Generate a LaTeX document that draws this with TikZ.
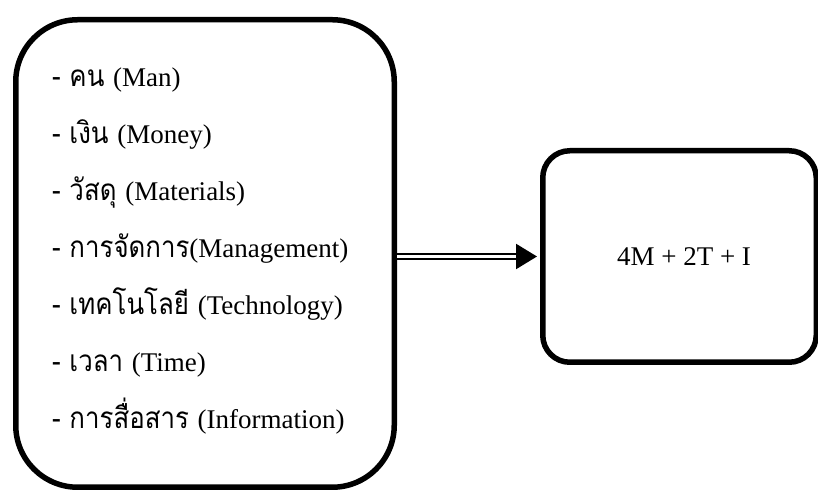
\documentclass[tikz,border=0pt]{standalone}
\usepackage{fontspec}
\setmainfont{Liberation Serif}
\newfontfamily\thai[Script=Thai, Scale=1.1, FakeStretch=0.87]{Loma}
\usetikzlibrary{arrows.meta}

\begin{document}
\begin{tikzpicture}[x=1pt,y=1pt]
		\tikzstyle{every node}+=[inner sep=0pt]
		\tikzstyle{box}=[draw=black, line width=5.5pt, font=\fontsize{27}{32}\selectfont]
		\tikzstyle{item}=[anchor=base west, font=\fontsize{27}{32}\selectfont]
		\useasboundingbox (0,0) rectangle (818,494);
		% left: the resources
		\node [box, rounded corners=62pt, minimum width=378.5pt, minimum height=467.5pt] (resources) at (205,240.5) {};
		\node [item] (man) at (52,407) {{\thai - คน }(Man)};
		\node [item] (money) at (52,350) {{\thai - เงิน }(Money)};
		\node [item] (materials) at (52,293) {{\thai - วัสดุ }(Materials)};
		\node [item] (management) at (52,236) {{\thai - การจัดการ}(Management)};
		\node [item] (technology) at (52,179) {{\thai - เทคโนโลยี }(Technology)};
		\node [item] (time) at (52,122) {{\thai - เวลา }(Time)};
		\node [item] (information) at (52,65) {{\thai - การสื่อสาร }(Information)};
		% right: the sum
		\node [box, rounded corners=27pt, minimum width=273.5pt, minimum height=211.5pt] (output) at (679.5,237.5) {\hspace{9pt}4M + 2T + I};
		\draw [black, double, double distance=3pt, line width=2.3pt, shorten >=3pt, -{Triangle[length=21pt,width=25pt]}] (resources.east |- output.west) -- (output.west);
	\end{tikzpicture}
\end{document}
